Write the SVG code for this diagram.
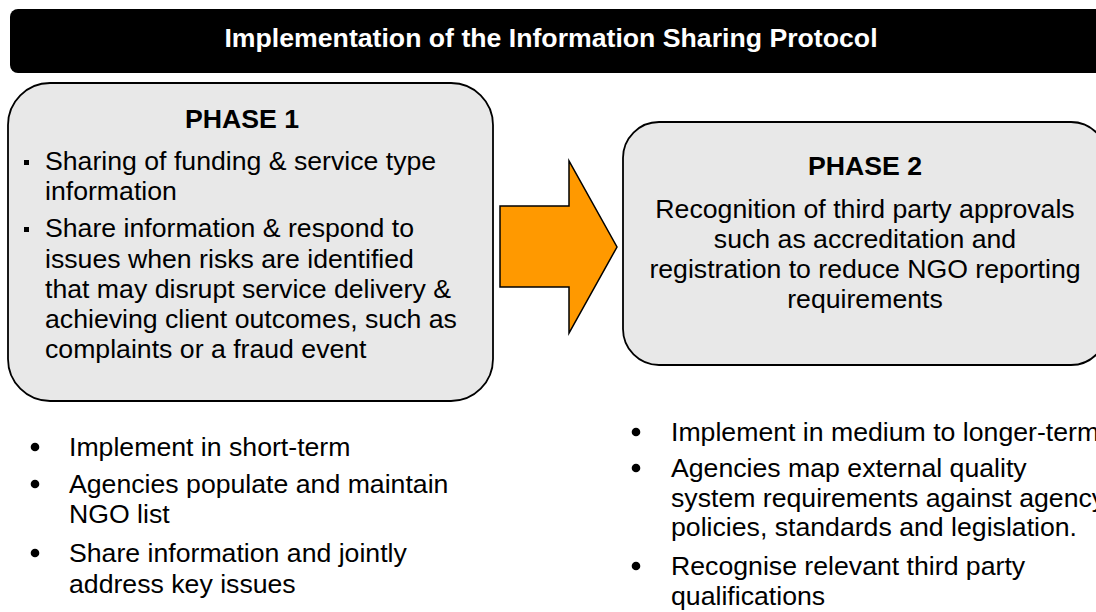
<svg xmlns="http://www.w3.org/2000/svg" width="1096" height="612" viewBox="0 0 1096 612">
<style>
text{font-family:"Liberation Sans",Arial,sans-serif;fill:#000}
.t{font-size:26.67px}
.b{font-weight:bold}
.c{text-anchor:middle}
.box{fill:#e8e8e8;stroke:#000;stroke-width:1.8}
</style>
<rect width="1096" height="612" fill="#fff"/>
<g id="title">
<rect x="10" y="9" width="1110" height="64" rx="8" fill="#000"/>
<text class="t b c" x="551" y="47" style="fill:#fff">Implementation of the Information Sharing Protocol</text>
</g>
<g id="phase1">
<rect class="box" x="8" y="83" width="485" height="318" rx="42"/>
<text class="t b c" x="242" y="128">PHASE 1</text>
<rect x="24" y="160" width="5" height="5" fill="#000"/>
<rect x="24" y="227" width="5" height="5" fill="#000"/>
<text class="t" x="45" y="170">Sharing of funding &amp; service type</text>
<text class="t" x="45" y="200">information</text>
<text class="t" x="45" y="237">Share information &amp; respond to</text>
<text class="t" x="45" y="268">issues when risks are identified</text>
<text class="t" x="45" y="298">that may disrupt service delivery &amp;</text>
<text class="t" x="45" y="328">achieving client outcomes, such as</text>
<text class="t" x="45" y="358">complaints or a fraud event</text>
</g>
<g id="phase2">
<rect class="box" x="623" y="122" width="484" height="243" rx="36"/>
<text class="t b c" x="865" y="175">PHASE 2</text>
<text class="t c" x="865" y="218">Recognition of third party approvals</text>
<text class="t c" x="865" y="248">such as accreditation and</text>
<text class="t c" x="865" y="278">registration to reduce NGO reporting</text>
<text class="t c" x="865" y="308">requirements</text>
</g>
<g id="connectors">
<polygon points="500,206 569,206 569,161 617,247 569,333 569,287 500,287" fill="#ff9900" stroke="#000" stroke-width="1.5" stroke-linejoin="miter"/>
</g>
<g id="notes1">
<circle cx="35" cy="447" r="4.3" fill="#000"/>
<circle cx="35" cy="484" r="4.3" fill="#000"/>
<circle cx="35" cy="553" r="4.3" fill="#000"/>
<text class="t" x="69" y="456">Implement in short-term</text>
<text class="t" x="69" y="493">Agencies populate and maintain</text>
<text class="t" x="69" y="523">NGO list</text>
<text class="t" x="69" y="562">Share information and jointly</text>
<text class="t" x="69" y="593">address key issues</text>
</g>
<g id="notes2">
<circle cx="636" cy="432" r="4.3" fill="#000"/>
<circle cx="636" cy="468" r="4.3" fill="#000"/>
<circle cx="636" cy="566" r="4.3" fill="#000"/>
<text class="t" x="671" y="441">Implement in medium to longer-term</text>
<text class="t" x="671" y="477">Agencies map external quality</text>
<text class="t" x="671" y="507">system requirements against agency</text>
<text class="t" x="671" y="536">policies, standards and legislation.</text>
<text class="t" x="671" y="575">Recognise relevant third party</text>
<text class="t" x="671" y="605">qualifications</text>
</g>
</svg>
